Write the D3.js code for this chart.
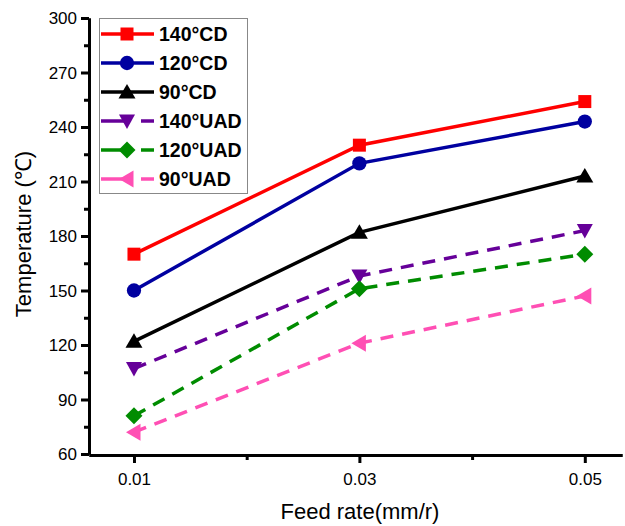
<!DOCTYPE html>
<html><head><meta charset="utf-8">
<script src="https://cdn.jsdelivr.net/npm/d3@7"></script>
<style>body{margin:0;background:#fff}svg{display:block}</style>
</head><body>
<svg id="c" width="625" height="526"></svg>
<script>
const feedRates = [0.01, 0.03, 0.05];
const seriesNames = ["140°CD", "120°CD", "90°CD", "140°UAD", "120°UAD", "90°UAD"];
const s140CD = [170, 230, 254];
const s120CD = [150, 220, 243];
const s90CD = [122, 182, 213];
const s140UAD = [107, 158, 183];
const s120UAD = [81, 151, 170];
const s90UAD = [72, 121, 147];
const yTicks = [60, 90, 120, 150, 180, 210, 240, 270, 300];
const xTickLabels = ["0.01", "0.03", "0.05"];

const seriesValues = [s140CD, s120CD, s90CD, s140UAD, s120UAD, s90UAD];
const colors = ["#ff0000", "#0000a0", "#000000", "#660099", "#008c00", "#ff4fb4"];
const dashed = [false, false, false, true, true, true];
const symbols = ["square", "circle", "tup", "tdown", "diamond", "tleft"];

const svg = d3.select("#c");
const x = d3.scaleLinear().domain([0.00601, 0.0533]).range([89, 622]);
const y = d3.scaleLinear().domain([60, 300]).range([454, 18]);
const FONT = "Arial, 'Liberation Sans', sans-serif";

// axes
const xAxisG = svg.append("g").attr("transform", "translate(0,455)");
xAxisG.call(d3.axisBottom(x).tickValues(feedRates).tickFormat((d,i)=>xTickLabels[i]).tickSize(8).tickSizeOuter(0));
xAxisG.append("g").call(d3.axisBottom(x).tickValues([0.02, 0.04]).tickFormat("").tickSize(5).tickSizeOuter(0));
const yAxisG = svg.append("g").attr("transform", "translate(89,0)");
yAxisG.call(d3.axisLeft(y).tickValues(yTicks).tickSize(8).tickSizeOuter(0));
yAxisG.append("g").call(d3.axisLeft(y).tickValues(d3.range(75, 300, 30)).tickFormat("").tickSize(5).tickSizeOuter(0));
svg.selectAll(".domain").attr("stroke", "#000").attr("stroke-width", 3);
svg.selectAll(".tick line").attr("stroke", "#000").attr("stroke-width", 3);
xAxisG.selectAll(".tick text").attr("font-family", FONT).attr("font-size", 17).attr("fill", "#000").attr("dy", "1.1em");
yAxisG.selectAll(".tick text").attr("font-family", FONT).attr("font-size", 17).attr("fill", "#000").attr("x", -12).attr("dy", "0.34em");

svg.append("text").attr("x", 360).attr("y", 519).attr("text-anchor", "middle")
  .attr("font-family", FONT).attr("font-size", 22).text("Feed rate(mm/r)");
svg.append("text").attr("transform", "translate(31,234) rotate(-90)").attr("text-anchor", "middle")
  .attr("font-family", FONT).attr("font-size", 22).text("Temperature (℃)");

function markerPath(k) {
  switch (symbols[k]) {
    case "square": return "M-6.5,-6.5H6.5V6.5H-6.5Z";
    case "circle": return d3.symbol().type(d3.symbolCircle).size(160)();
    case "tup": return "M0,-8L8.5,6.5L-8.5,6.5Z";
    case "tdown": return "M-8,-6.5L8,-6.5L0,8Z";
    case "diamond": return "M0,-8.5L8.5,0L0,8.5L-8.5,0Z";
    case "tleft": return "M-8,0L6.5,-8.5L6.5,8.5Z";
  }
}

const line = d3.line().x((d,i)=>x(feedRates[i])).y(d=>y(d));
seriesValues.forEach((vals, k) => {
  svg.append("path").datum(vals).attr("d", line).attr("fill", "none")
    .attr("stroke", colors[k]).attr("stroke-width", 3.5)
    .attr("stroke-dasharray", dashed[k] ? "13,9" : null);
  svg.selectAll(null).data(vals).enter().append("path")
    .attr("transform", (d,i)=>`translate(${x(feedRates[i])},${y(d)})`)
    .attr("d", markerPath(k)).attr("fill", colors[k]);
});

// legend
const lg = svg.append("g");
lg.append("rect").attr("x", 99.5).attr("y", 18.5).attr("width", 148).attr("height", 175)
  .attr("fill", "#fff").attr("stroke", "#888").attr("stroke-width", 1);
seriesNames.forEach((name, k) => {
  const ry = 34 + k * 29;
  if (dashed[k]) {
    lg.append("line").attr("x1", 101).attr("x2", 128).attr("y1", ry).attr("y2", ry)
      .attr("stroke", colors[k]).attr("stroke-width", 3.5);
    lg.append("line").attr("x1", 141).attr("x2", 154).attr("y1", ry).attr("y2", ry)
      .attr("stroke", colors[k]).attr("stroke-width", 3.5);
  } else {
    lg.append("line").attr("x1", 101).attr("x2", 154).attr("y1", ry).attr("y2", ry)
      .attr("stroke", colors[k]).attr("stroke-width", 3.5);
  }
  lg.append("path").attr("transform", `translate(127,${ry})`).attr("d", markerPath(k)).attr("fill", colors[k]);
  lg.append("text").attr("x", 159).attr("y", ry).attr("dy", "0.36em")
    .attr("font-family", FONT).attr("font-weight", "bold")
    .attr("font-size", 19.5).text(name);
});
</script>
</body></html>
